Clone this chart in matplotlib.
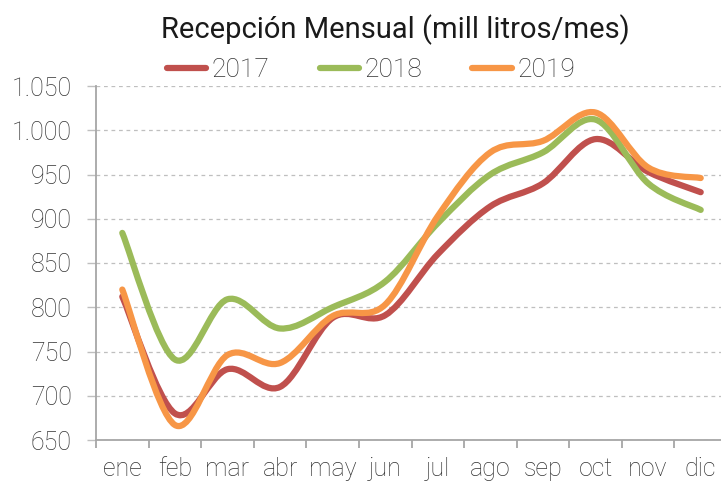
import numpy as np
import matplotlib
matplotlib.use("Agg")
import matplotlib.pyplot as plt
from matplotlib.path import Path
from matplotlib.patches import PathPatch
from matplotlib.lines import Line2D

months = ["ene", "feb", "mar", "abr", "may", "jun", "jul", "ago", "sep", "oct", "nov", "dic"]
v2017 = [812, 680, 730, 710, 788, 791, 860, 914, 940, 990, 953, 930]
v2018 = [884, 741, 809, 776, 800, 829, 895, 950, 975, 1012, 940, 910]
v2019 = [820, 667, 746, 737, 790, 803, 903, 975, 988, 1020, 958, 946]
series = [("2017", v2017, "#C0504D"), ("2018", v2018, "#9BBB59"), ("2019", v2019, "#F79646")]
yticks = [650, 700, 750, 800, 850, 900, 950, 1000, 1050]
title = "Recepción Mensual (mill litros/mes)"

plt.rcParams['font.family'] = ['Roboto', 'DejaVu Sans']

fig = plt.figure(figsize=(7.21, 4.83), dpi=100)
ax = fig.add_axes([96/721, 1-440/483, 631/721, (440-86)/483])

def smooth_path(xs, ys):
    pts = np.column_stack([xs, ys]).astype(float)
    n = len(pts)
    verts = [pts[0]]
    codes = [Path.MOVETO]
    for i in range(n-1):
        p0 = pts[i-1] if i > 0 else pts[i]
        p1 = pts[i]
        p2 = pts[i+1]
        p3 = pts[i+2] if i+2 < n else pts[i+1]
        c1 = p1 + (p2 - p0)/6
        c2 = p2 - (p3 - p1)/6
        verts += [c1, c2, p2]
        codes += [Path.CURVE4]*3
    return Path(verts, codes)

x = np.arange(len(months))
handles = []
for name, vals, col in series:
    p = smooth_path(x, vals)
    patch = PathPatch(p, facecolor='none', edgecolor=col, lw=4.5, capstyle='round', joinstyle='round', zorder=3)
    ax.add_patch(patch)
    handles.append(Line2D([0], [0], color=col, lw=4.5, solid_capstyle='round'))

ax.set_xlim(-0.5, len(months)-0.5)
ax.set_ylim(650, 1050)
ax.set_yticks(yticks)
ax.set_yticklabels([f"{v:,}".replace(",", ".") for v in yticks])
ax.set_xticks(x)
ax.set_xticklabels(months)
ax.set_xticks(np.arange(-0.5, len(months)), minor=True)

for s in ['top', 'right']:
    ax.spines[s].set_visible(False)
for s in ['left', 'bottom']:
    ax.spines[s].set_color('#A6A6A6')
    ax.spines[s].set_linewidth(1.3)

ax.grid(axis='y', color='#BFBFBF', linestyle=(0, (3, 3)), lw=0.9, zorder=0)
ax.tick_params(axis='y', length=6.5, width=1, color='#BFBFBF', pad=11, labelsize=18, labelcolor='#333333')
ax.tick_params(axis='x', which='major', length=0, pad=12, labelsize=18, labelcolor='#333333')
ax.tick_params(axis='x', which='minor', length=6, width=1.3, color='#A6A6A6')
for lab in ax.get_xticklabels() + ax.get_yticklabels():
    lab.set_fontweight('light')

fig.text(395/721, 1-30/483, title, ha='center', va='center', fontsize=21, color='#1a1a1a')
leg = fig.legend(handles, ["2017", "2018", "2019"], loc='center', bbox_to_anchor=(371/721, 1-70/483),
           ncol=3, frameon=False, fontsize=19, handlelength=1.5, handletextpad=0.2,
           columnspacing=1.9, labelcolor='#333333')
for t in leg.get_texts():
    t.set_fontweight('light')

fig.savefig("out.png", dpi=100)
